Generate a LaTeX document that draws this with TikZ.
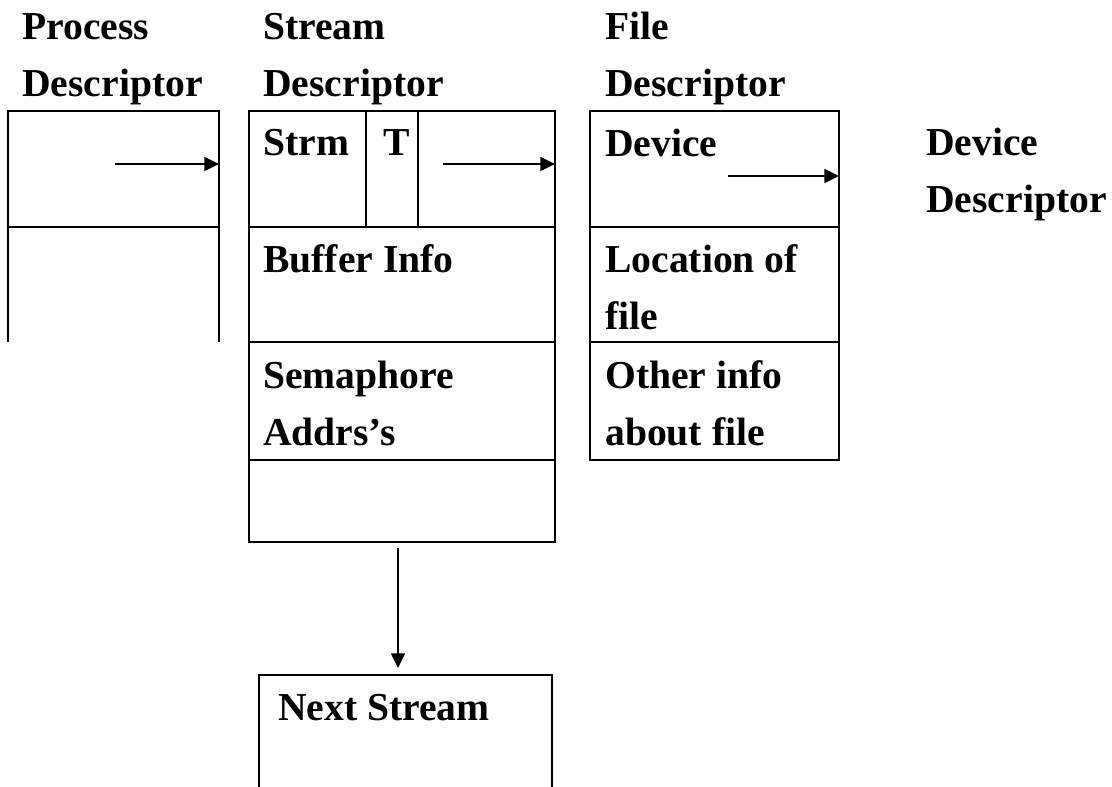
\documentclass[tikz,border=0pt]{standalone}
\usepackage{fontspec}
\setmainfont{Liberation Serif}
\usepackage{tikz}
\usetikzlibrary{arrows.meta, positioning, calc, fit}
\tikzset{
    cell/.style={rectangle, draw, line width=2.2pt, inner sep=0pt, outer sep=0pt},
    thin cell/.style={line width=1.7pt},
    txt/.style={anchor=base west, inner sep=0pt, align=left, font=\bfseries\fontsize{29.7pt}{42.75pt}\selectfont},
    arrow/.style={-{Triangle[length=11pt, width=10.5pt]}, line width=1.1pt}
}

\begin{document}
\begin{tikzpicture}[x=0.75pt, y=-0.75pt]
            \useasboundingbox (0,0) rectangle (1112,787);

            % titles (anchored at last line)
            \node[txt] (ptitle) at (22, 97) {Process\\Descriptor};
            \node[txt] (stitle) at (263, 97) {Stream\\Descriptor};
            \node[txt] (ftitle) at (605, 97) {File\\Descriptor};
            \node[txt] (dtitle) at (926, 213) {Device\\Descriptor};

            % process descriptor
            \node[cell, fit={(8,111) (219,227)}] (p1) {};
            \draw[line width=2.2pt] (p1.south west) -- ++(0,115);
            \draw[line width=2.2pt] (p1.south east) -- ++(0,115);

            % stream descriptor
            \node[cell, fit={(249,111) (366,227)}] (s1a) {};
            \node[cell, fit={(366,111) (418,227)}] (s1b) {};
            \node[cell, fit={(418,111) (555,227)}] (s1c) {};
            \node[cell, fit={(249,227) (555,342)}] (s2) {};
            \node[cell, fit={(249,342) (555,460)}] (s3) {};
            \node[cell, fit={(249,460) (555,542)}] (s4) {};
            \node[txt] (strm) at (263, 156) {Strm};
            \node[txt] (tflag) at (383, 156) {T};
            \node[txt] (buf) at (263, 273) {Buffer Info};
            \node[txt] (sem) at (263, 445) {Semaphore\\Addrs's};

            % file descriptor
            \node[cell, fit={(590,111) (839,227)}] (f1) {};
            \node[cell, fit={(590,227) (839,342)}] (f2) {};
            \node[cell, fit={(590,342) (839,460)}] (f3) {};
            \node[txt] (dev) at (605, 157) {Device};
            \node[txt] (loc) at (605, 330) {Location of\\file};
            \node[txt] (oth) at (605, 445) {Other info\\about file};

            % next stream
            \draw[cell, thin cell] (259,787) -- (259,675) -- (552,675) -- (552,787);
            \node[txt] (next) at (278, 720) {Next Stream};

            % pointers
            \coordinate (pa) at (115, 164);
            \coordinate (sa) at (443, 164);
            \coordinate (fa) at (728, 176);
            \coordinate (na) at (398, 668);
            \draw[arrow] (pa) -- (p1.east |- pa);
            \draw[arrow] (sa) -- (s1c.east |- sa);
            \draw[arrow] (fa) -- (f1.east |- fa);
            \draw[arrow] ([yshift=-4.5pt]s4.south -| na) -- (na);
\end{tikzpicture}
\end{document}
